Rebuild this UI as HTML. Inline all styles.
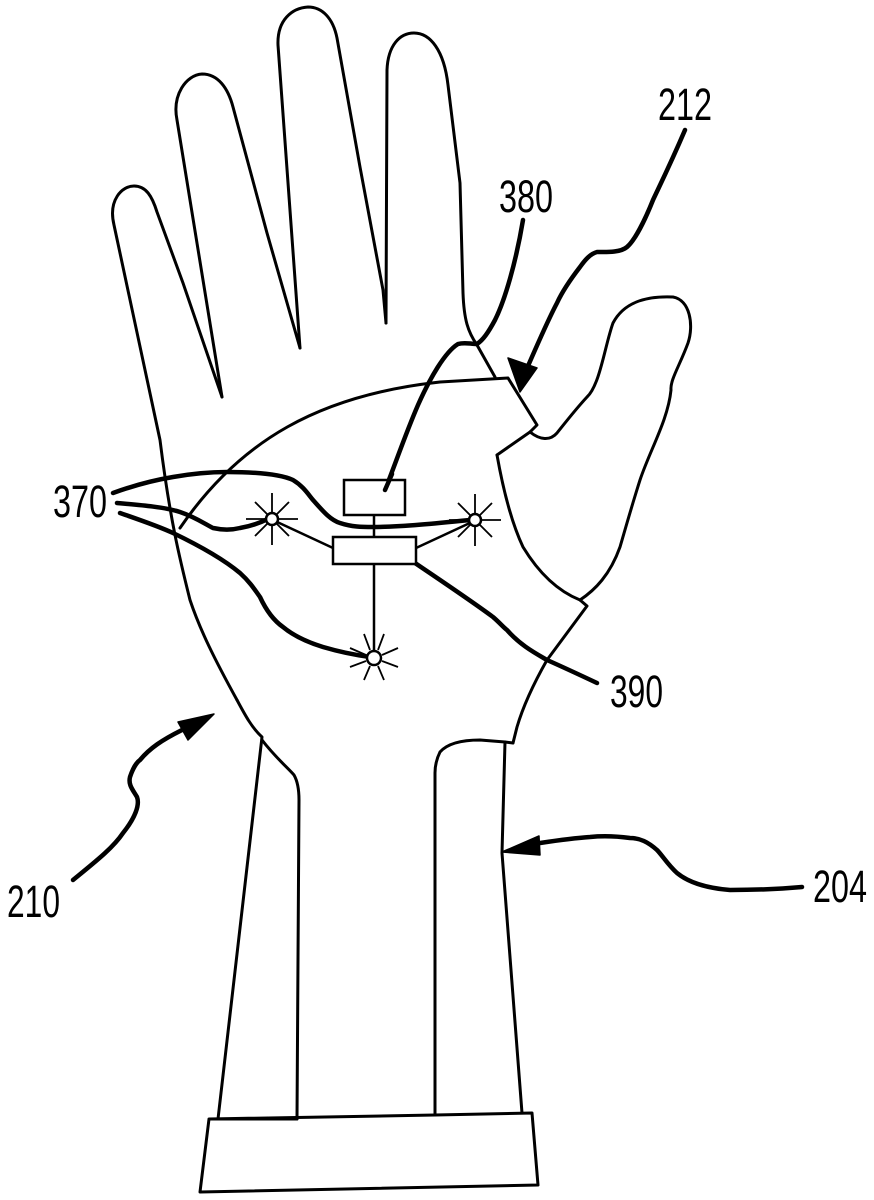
<!DOCTYPE html>
<html><head><meta charset="utf-8"><style>html,body{margin:0;padding:0;background:#fff}svg{display:block}</style></head>
<body>
<svg width="874" height="1200" viewBox="0 0 874 1200" xmlns="http://www.w3.org/2000/svg">
<g fill="none" stroke="#000" stroke-width="3" stroke-linejoin="round" stroke-linecap="round">
<path d="M237,700 C215,660 200,630 190,600 C180,560 170,520 160,440 L114,225 C108,200 122,186 134,186 C146,186 152,196 157,212 L183,283 L222,397"/>
<path d="M222,397 L177,120 C172,95 186,75 202,74 C218,74 228,88 233,107 L267,233 L300,348"/>
<path d="M300,348 L278,45 C277,20 292,8 308,7 C322,7 333,18 337,38 L360,167 L383,290 L386,323"/>
<path d="M386,323 L387,70 C388,45 400,33 414,33 C430,33 444,50 448,85 L460,183 L463,293 C464,320 468,332 477,345"/>
<path d="M477,345 L495,377"/>
<path d="M180,528 C240,440 320,395 440,382 L508,378 L537,425 L530,432 L497,455"/>
<path d="M530,432 C540,440 550,441 557,433 C565,423 575,410 587,397 C600,385 605,345 613,323 C625,300 650,296 673,297 C690,300 694,325 688,343 C680,365 670,380 671,390 C668,420 650,450 640,480 C632,505 625,530 620,547 C610,575 595,590 580,600"/>
<path d="M497,455 C505,500 515,530 523,547 C540,575 560,592 580,600 L587,606 L547,660 C530,690 522,710 517,727 L513,743"/>
<path d="M237,700 C245,715 252,728 262,737 L218,1119"/>
<path d="M262,740 C275,757 288,768 294,775 C298,782 299,790 299,800 L297,1119"/>
<path d="M513,743 L505,742 L502,853 L522,1113"/>
<path d="M505,742 L480,740 C460,740 447,744 440,752 C436,760 435,766 435,773 L435,1115"/>
<path d="M209,1119 L297,1119 M435,1115 L532,1113 L538,1185 L200,1192 L209,1119 Z"/>
</g>
<g fill="none" stroke="#000" stroke-width="4.5" stroke-linecap="round" stroke-linejoin="round">
<path d="M523,220 C516,262 505,300 495,320 C488,333 483,340 477,344 C470,344 465,342 458,344 C445,352 430,378 418,405 C405,435 395,465 385,490"/>
<path d="M685,130 C670,165 660,185 653,200 C645,220 635,240 627,247 C620,253 605,252 597,252 C590,254 585,260 580,267 C570,280 562,292 557,303 C548,320 538,343 528,366"/>
<path d="M73,880 C95,862 113,848 123,833 C135,818 140,805 137,797 C133,790 128,785 130,777 C133,768 137,762 140,760 C150,748 162,740 182,730"/>
<path d="M802,887 C780,889 755,890 730,890 C705,888 688,882 677,873 C668,865 662,855 657,850 C648,842 640,838 630,838 C615,836 600,836 590,837 C575,838 560,840 540,843"/>
<path d="M113,493 C135,485 155,480 173,477 C190,474 210,472 227,472 C255,472 280,474 293,480 C303,486 308,494 313,500 C322,510 330,520 340,523 C352,527 362,527 373,527 C400,527 440,523 470,520"/>
<path d="M117,503 C140,505 165,507 180,512 C195,517 205,524 213,528 C222,530 232,530 240,528 C252,526 262,522 270,518"/>
<path d="M120,513 C140,520 158,526 173,533 C198,545 222,558 240,573 C250,582 255,590 260,597 C266,610 273,620 283,627 C295,637 310,643 323,647 C340,652 355,655 370,657"/>
<path d="M415,563 C440,580 470,600 493,617 C500,623 503,627 507,630 C520,645 535,653 547,660 C565,668 580,675 597,683"/>
</g>
<g fill="#000" stroke="#000" stroke-width="1.5" stroke-linejoin="round">
<polygon points="520,392 508,358 537,368"/>
<polygon points="214,714 178,722 188,740"/>
<polygon points="502,852 539,836 540,855"/>
</g>
<g fill="#fff" stroke="#000" stroke-width="2.5">
<line x1="374" y1="515" x2="374" y2="537"/>
<line x1="374" y1="564" x2="374" y2="650"/>
<line x1="333" y1="548" x2="275" y2="521"/>
<line x1="416" y1="548" x2="472" y2="522"/>
<rect x="344" y="480" width="61" height="35"/>
<rect x="333" y="537" width="83" height="27"/>
</g>
<line x1="385" y1="490" x2="392" y2="474" stroke="#000" stroke-width="4.5" stroke-linecap="round"/>
<g stroke="#000" stroke-width="1.8" fill="none">
<g transform="translate(272,519)"><path d="M-26,0H26M0,-26V26M-17,-17L17,17M-17,17L17,-17"/><circle r="6" fill="#fff" stroke-width="2.5"/></g>
<g transform="translate(475,520)"><path d="M-26,0H26M0,-26V26M-17,-17L17,17M-17,17L17,-17"/><circle r="6" fill="#fff" stroke-width="2.5"/></g>
<g transform="translate(374,658)"><path d="M8,-3L24,-10M8,3L24,9M-8,-3L-24,-10M-8,3L-24,9M-4,8L-10,22M4,8L10,22M-4,-8L-10,-24M4,-8L10,-24"/><circle r="7" fill="#fff" stroke-width="2.5"/></g>
</g>
<g font-family="Liberation Sans, Arial, sans-serif" font-size="45" fill="#000">
<text x="658" y="120" textLength="54" lengthAdjust="spacingAndGlyphs">212</text>
<text x="499" y="212" textLength="54" lengthAdjust="spacingAndGlyphs">380</text>
<text x="53" y="517" textLength="54" lengthAdjust="spacingAndGlyphs">370</text>
<text x="610" y="707" textLength="53" lengthAdjust="spacingAndGlyphs">390</text>
<text x="7" y="917" textLength="53" lengthAdjust="spacingAndGlyphs">210</text>
<text x="813" y="902" textLength="54" lengthAdjust="spacingAndGlyphs">204</text>
</g>
</svg>
</body></html>
